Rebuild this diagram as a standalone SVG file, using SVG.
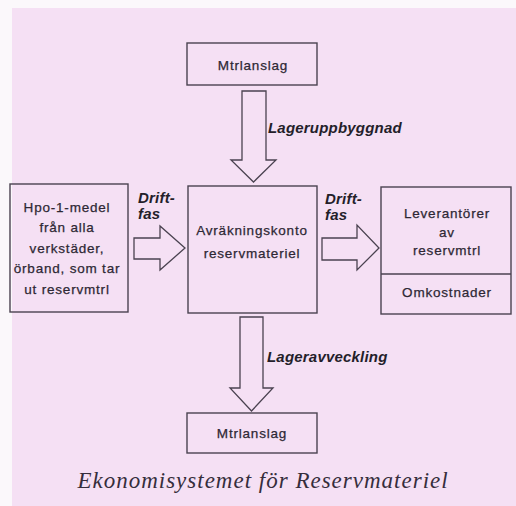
<svg xmlns="http://www.w3.org/2000/svg" width="516" height="506" viewBox="0 0 516 506">
  <style>
    .box { fill: none; stroke: #4a4250; stroke-width: 1.4; }
    .arrow { fill: none; stroke: #4a4250; stroke-width: 1.3; stroke-linejoin: miter; }
    .t { font-family: "Liberation Sans", Arial, sans-serif; font-size: 13.5px; letter-spacing: 0.8px; fill: #2e2834; stroke: #2e2834; stroke-width: 0.25; text-anchor: middle; }
    .lbl { font-family: "Liberation Sans", Arial, sans-serif; font-size: 15px; font-weight: bold; font-style: italic; letter-spacing: 0.2px; fill: #241e2a; }
    .cap { font-family: "Liberation Serif", "Times New Roman", serif; font-size: 23px; font-style: italic; letter-spacing: 1px; fill: #362e3c; text-anchor: middle; }
  </style>

  <!-- page -->
  <rect x="0" y="0" width="516" height="506" fill="#fbf8fb"/>
  <rect x="12" y="8" width="504" height="498" fill="#f5e0f4"/>

  <!-- connectors: outlined block arrows and their labels -->
  <g id="connectors">
    <path class="arrow" d="M242,91 H266 V160 H276 L253.5,182 L231,160 H242 Z"/>
    <path class="arrow" d="M240,317 H263 V388 H273 L251.5,411 L230,388 H240 Z"/>
    <path class="arrow" d="M134,238 H160 V226 L185,248 L160,270 V259 H134 Z"/>
    <path class="arrow" d="M322,238 H357 V225 L379,248 L357,270 V260 H322 Z"/>
    <text class="lbl" x="268" y="133">Lageruppbyggnad</text>
    <text class="lbl" x="267" y="362">Lageravveckling</text>
    <text class="lbl" x="138" y="203">Drift-</text>
    <text class="lbl" x="138" y="219">fas</text>
    <text class="lbl" x="325" y="204">Drift-</text>
    <text class="lbl" x="325" y="220">fas</text>
  </g>

  <g id="mtrlanslag-top">
    <rect class="box" x="187" y="43" width="130" height="42"/>
    <text class="t" x="253" y="70">Mtrlanslag</text>
  </g>

  <g id="hpo-medel">
    <rect class="box" x="10" y="184" width="118" height="128"/>
    <text class="t" x="67" y="211.5">Hpo-1-medel</text>
    <text class="t" x="67" y="232">från alla</text>
    <text class="t" x="67" y="252.5">verkstäder,</text>
    <text class="t" x="67" y="273">örband, som tar</text>
    <text class="t" x="67" y="293.5">ut reservmtrl</text>
  </g>

  <g id="avrakningskonto">
    <rect class="box" x="188" y="186" width="129" height="127"/>
    <text class="t" x="252" y="235">Avräkningskonto</text>
    <text class="t" x="252" y="258">reservmateriel</text>
  </g>

  <g id="leverantorer">
    <rect class="box" x="381" y="187" width="130" height="127"/>
    <line class="box" x1="381" y1="274" x2="511" y2="274"/>
    <text class="t" x="447" y="218">Leverantörer</text>
    <text class="t" x="447" y="237">av</text>
    <text class="t" x="447" y="255">reservmtrl</text>
    <text class="t" x="447" y="297">Omkostnader</text>
  </g>

  <g id="mtrlanslag-bottom">
    <rect class="box" x="187" y="413" width="130" height="40"/>
    <text class="t" x="252" y="438">Mtrlanslag</text>
  </g>

  <text class="cap" x="263" y="488">Ekonomisystemet för Reservmateriel</text>
</svg>
